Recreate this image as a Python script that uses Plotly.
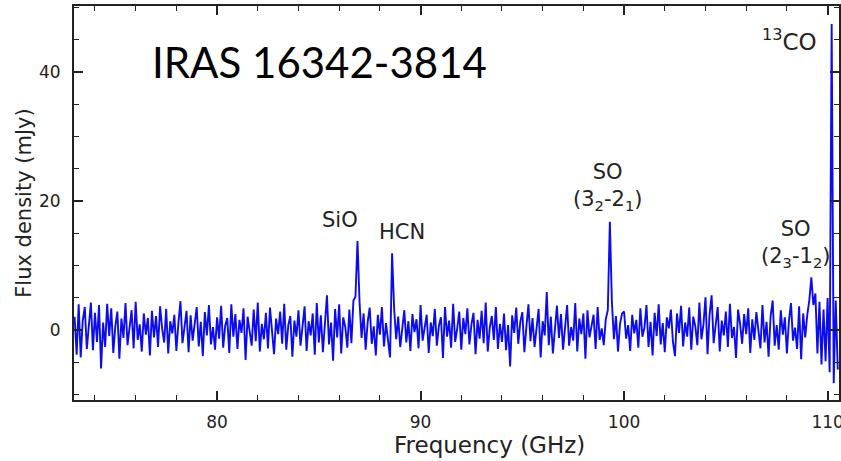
import numpy as np
import plotly.graph_objects as go

# Spectrum channels: 73.0 .. 110.5 GHz, 0.1 GHz spacing
freq_start = 73.0
freq_step = 0.1

# Flux density (mJy), one row per GHz
flux_rows = [
    [2.1, -3.8, 4.0, -4.2, 1.5, 3.6, -2.9, 0.8, 4.3, -3.1],      # 73
    [2.7, -1.8, 3.9, -5.9, 1.2, -2.6, 4.1, -0.9, 3.4, -3.5],     # 74
    [0.6, 2.9, -4.4, 1.8, -1.2, 4.2, -2.3, 0.4, 3.1, -2.8],      # 75
    [4.4, -1.5, 0.9, -3.3, 2.6, -0.7, 1.9, -3.9, 3.0, -1.1],     # 76
    [2.2, -2.6, 3.7, 0.3, -1.9, 3.3, -3.6, 1.4, -0.5, 2.4],      # 77
    [-3.2, 1.1, 4.5, -2.0, 0.6, 3.0, -3.4, 2.3, -1.6, 0.9],      # 78
    [3.6, -2.5, 1.3, -4.0, 2.8, -0.8, 3.9, -2.2, 0.5, -3.0],     # 79
    [2.0, -1.3, 3.8, -2.7, 0.7, 1.9, -3.5, 4.0, -1.0, 2.5],      # 80
    [-2.9, 1.6, -0.4, 3.4, -4.6, 2.1, 0.2, -2.4, 3.2, -1.7],     # 81
    [4.3, -3.3, 1.0, -1.4, 2.7, -2.8, 3.5, 0.4, -3.7, 1.8],      # 82
    [-0.6, 2.9, -2.1, 4.1, -3.0, 0.8, 2.2, -4.1, 1.5, -1.0],     # 83
    [3.1, -2.4, 0.9, 3.7, -3.2, 1.4, -0.8, 2.6, -3.8, 4.2],      # 84
    [-1.9, 2.3, -3.4, 0.7, 5.4, -2.2, 1.2, -4.7, 3.3, -1.1],     # 85
    [4.0, -3.6, 2.0, 0.5, -2.7, 3.2, -2.0, 4.6, 5.2, 13.8],      # 86 (SiO)
    [4.4, -1.2, 2.6, -3.0, 1.3, 3.5, -2.1, 0.6, -3.9, 2.4],      # 87
    [-0.7, 3.6, -2.5, 1.1, -2.0, -4.2, 11.9, 3.4, -1.4, 2.1],    # 88 (HCN)
    [-2.6, 0.8, 3.1, -1.9, 1.4, -3.2, 2.5, -0.3, 1.7, -2.8],     # 89
    [3.9, -1.6, 0.5, 2.4, -3.5, 1.2, -0.9, 3.3, -2.4, 0.7],      # 90
    [2.0, -4.3, 3.6, -1.0, 1.5, -2.7, 4.1, -1.8, 0.3, 2.9],      # 91
    [-3.0, 1.9, -0.6, 3.4, -2.2, 0.9, 2.7, -3.7, 1.6, -1.3],     # 92
    [3.0, -2.0, 4.3, -3.3, 0.4, 2.2, -1.5, 3.6, -2.9, 1.0],      # 93
    [-1.8, 2.6, -3.1, 0.8, -5.6, 2.3, -0.4, 3.5, -2.1, 1.3],     # 94
    [2.8, -3.4, 0.6, 4.0, -1.7, 1.9, -2.6, 0.2, 3.3, -4.2],      # 95
    [1.4, -0.8, 5.9, -2.3, 2.1, -3.6, 0.7, 3.8, -1.2, 2.5],      # 96
    [-3.0, 1.1, 3.9, -2.4, 0.5, -1.6, 4.2, -3.3, 1.8, -0.6],     # 97
    [2.6, -4.4, 3.1, -1.1, 0.9, 2.4, -2.9, 3.6, -1.5, 0.3],      # 98
    [-2.3, 1.7, 3.1, 16.8, 4.4, -1.4, 2.2, -3.3, 1.0, 2.6],      # 99 (SO 3-2)
    [2.9, -1.3, 0.8, -3.2, 2.4, -0.5, 1.6, -2.7, 3.4, -1.0],     # 100
    [0.4, 3.9, -2.6, 1.3, -3.9, 2.7, -0.9, 4.0, -2.2, 1.1],      # 101
    [-3.4, 2.0, 0.3, 3.2, -1.8, -4.0, 2.6, -0.4, 3.8, -2.5],     # 102
    [1.2, -1.0, 3.5, -3.0, 2.1, 0.6, -2.3, 4.3, -1.4, 0.9],      # 103
    [5.1, -3.7, 2.4, 5.4, -2.0, 0.7, 3.6, -3.3, 1.5, -0.8],      # 104
    [2.9, -2.6, 4.1, -1.2, 0.5, -4.3, 3.2, 1.0, -2.1, 2.5],      # 105
    [-0.6, 3.4, -3.5, 1.7, -1.5, 2.8, 0.2, -2.8, 3.9, -1.9],     # 106
    [1.3, -4.1, 2.2, 4.6, -2.4, 0.8, -3.0, 3.1, -0.7, 2.0],      # 107
    [-3.6, 1.5, 4.2, -1.6, 0.4, -2.9, 3.7, -4.5, 2.6, -1.1],     # 108
    [2.4, 4.6, 8.2, 3.9, 5.7, -3.6, 4.4, -5.3, 3.2, -4.8],       # 109 (SO 2-1)
    [5.0, -6.5, 47.4, -8.2, 4.6, -6.1],                          # 110 (13CO)
]

x_tickvals = [80, 90, 100, 110]
y_tickvals = [0, 20, 40]

labels = [
    dict(text="SiO", x=86.05, y=17.0),
    dict(text="HCN", x=89.08, y=15.2),
    dict(text="SO<br>(3<sub>2</sub>-2<sub>1</sub>)", x=99.2, y=22.2),
    dict(text="SO<br>(2<sub>3</sub>-1<sub>2</sub>)", x=108.4, y=13.3),
]

flux = np.concatenate([np.array(r, dtype=float) for r in flux_rows])
freq = freq_start + freq_step * np.arange(flux.size)

fig = go.Figure()
fig.add_trace(go.Scatter(x=freq, y=flux, mode="lines",
                         line=dict(color="#0c0cf0", width=1.9),
                         showlegend=False, hoverinfo="skip"))

axis_common = dict(
    showline=True, linecolor="#222222", linewidth=2, mirror="allticks",
    ticks="inside", ticklen=9, tickwidth=1.5, tickcolor="#222222",
    showgrid=False, zeroline=False,
    tickfont=dict(family="DejaVu Sans", size=17, color="#222222"),
)

fig.update_xaxes(
    range=[72.97, 110.56], tickvals=x_tickvals,
    minor=dict(dtick=2, tick0=0, ticks="inside", ticklen=5, tickcolor="#222222", tickwidth=1.2),
    ticklabelstandoff=6, ticklabeloverflow="allow",
    **axis_common,
)
fig.update_yaxes(
    range=[-10.8, 50.2], tickvals=y_tickvals,
    minor=dict(dtick=5, tick0=0, ticks="inside", ticklen=5, tickcolor="#222222", tickwidth=1.2),
    title=dict(text="Flux density (mJy)", font=dict(family="DejaVu Sans", size=21, color="#222222"), standoff=2),
    ticklabelstandoff=8,
    **axis_common,
)

# x-axis title (placed off-centre as in the original figure)
fig.add_annotation(text="Frequency (GHz)", x=0.5435, y=-0.115, xref="paper", yref="paper",
                   showarrow=False, xanchor="center", yanchor="middle",
                   font=dict(family="DejaVu Sans", size=23, color="#222222"))

for lab in labels:
    fig.add_annotation(text=lab["text"], x=lab["x"], y=lab["y"], xref="x", yref="y",
                       showarrow=False, xanchor="center", yanchor="middle",
                       font=dict(family="DejaVu Sans", size=21, color="#222222"))

fig.add_annotation(text="<sup>13</sup>CO", x=109.6, y=45.0, xref="x", yref="y",
                   showarrow=False, xanchor="right", yanchor="middle",
                   font=dict(family="DejaVu Sans", size=23, color="#222222"))

fig.add_annotation(text="IRAS 16342-3814", x=85.04, y=41.5, xref="x", yref="y",
                   showarrow=False, xanchor="center", yanchor="middle",
                   font=dict(family="Lato", size=42, color="#000000"))

fig.update_layout(
    width=841, height=461,
    margin=dict(l=74, r=2, t=6, b=61, autoexpand=False),
    paper_bgcolor="white", plot_bgcolor="white",
)

fig.write_html("out.html")
